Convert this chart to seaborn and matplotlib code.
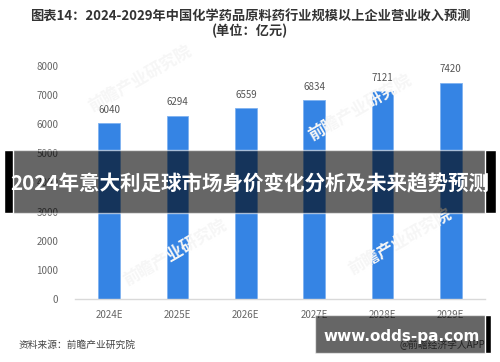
"""
Bar chart: revenue forecast of API manufacturers, 2024-2029, with overlay banner
"""

import matplotlib
matplotlib.use('Agg')
import matplotlib.pyplot as plt
import seaborn as sns
from matplotlib.patches import Rectangle

years = ['2024E', '2025E', '2026E', '2027E', '2028E', '2029E']
revenue = [6040, 6294, 6559, 6834, 7121, 7420]
y_ticks = [0, 1000, 2000, 3000, 4000, 5000, 6000, 7000, 8000]

title_text = '图表14：2024-2029年中国化学药品原料药行业规模以上企业营业收入预测\n(单位：亿元)'
banner_text = '2024年意大利足球市场身价变化分析及未来趋势预测'
source_text = '资料来源：前瞻产业研究院'
site_text = 'www.odds-pa.com'

sns.set_style('white')
plt.rcParams['font.family'] = ['Noto Sans CJK SC', 'DejaVu Sans']

fig = plt.figure(figsize=(5, 3.62), dpi=100)
ax = fig.add_axes([0.15, 0.174, 0.82, 0.644])

sns.barplot(x=years, y=revenue, color='#3584e4', width=0.32,
            edgecolor='#7fb2f0', linewidth=0.6, saturation=1, ax=ax)
ax.bar_label(ax.containers[0], labels=[str(v) for v in revenue],
             padding=6, fontsize=7, color='#555555')

ax.set_ylim(0, 8000)
ax.set_xlim(-0.5, len(years) - 0.5)
ax.set_yticks(y_ticks)
ax.tick_params(axis='both', length=0, labelsize=7, colors='#666666')
ax.tick_params(axis='y', pad=12)
ax.tick_params(axis='x', pad=8)
for side in ['top', 'right', 'left']:
    ax.spines[side].set_visible(False)
ax.spines['bottom'].set_color('#d9d9d9')
ax.spines['bottom'].set_linewidth(1.0)

# faint watermarks (outside the banner)
for (wx, wy) in [(0.28, 0.78), (0.72, 0.70), (0.35, 0.30), (0.80, 0.33)]:
    fig.text(wx, wy, '前瞻产业研究院', fontsize=12, color='#f6f6f6',
             rotation=30, ha='center', va='center', zorder=0, fontweight='bold')

fig.text(0.5, 0.935, title_text, ha='center', va='center', fontsize=9.5,
         fontweight='bold', color='#333333', linespacing=1.0)
fig.text(0.038, 0.047, source_text, ha='left', va='center', fontsize=7,
         color='#444444')
fig.text(0.97, 0.047, '@前瞻经济学人APP', ha='right', va='center',
         fontsize=7, color='#555555')

# dark banner across the middle
fig.patches.append(Rectangle((4 / 500, 1 - 213 / 362), 492 / 500, 63 / 362,
                             transform=fig.transFigure, facecolor='black',
                             alpha=0.6, zorder=5))
fig.patches.append(Rectangle((4 / 500, 1 - 213 / 362), 9 / 500, 63 / 362,
                             transform=fig.transFigure, facecolor='black',
                             zorder=5))
fig.patches.append(Rectangle((485 / 500, 1 - 213 / 362), 11 / 500, 63 / 362,
                             transform=fig.transFigure, facecolor='black',
                             zorder=5))
fig.text(0.5, 1 - 184 / 362, banner_text, ha='center', va='center',
         fontsize=14.8, fontweight='bold', color='white', zorder=6)

# site box bottom right
fig.patches.append(Rectangle((315 / 500, 1 - 353 / 362), 176 / 500, 38 / 362,
                             transform=fig.transFigure, facecolor='black',
                             alpha=0.6, zorder=5))
fig.patches.append(Rectangle((485 / 500, 1 - 353 / 362), 6 / 500, 38 / 362,
                             transform=fig.transFigure, facecolor='black',
                             zorder=5))
fig.text(402 / 500, 1 - 336 / 362, site_text, ha='center', va='center',
         fontsize=11, fontweight='bold', color='white', zorder=6,
         family='DejaVu Sans')

fig.savefig('out.png', dpi=100)
